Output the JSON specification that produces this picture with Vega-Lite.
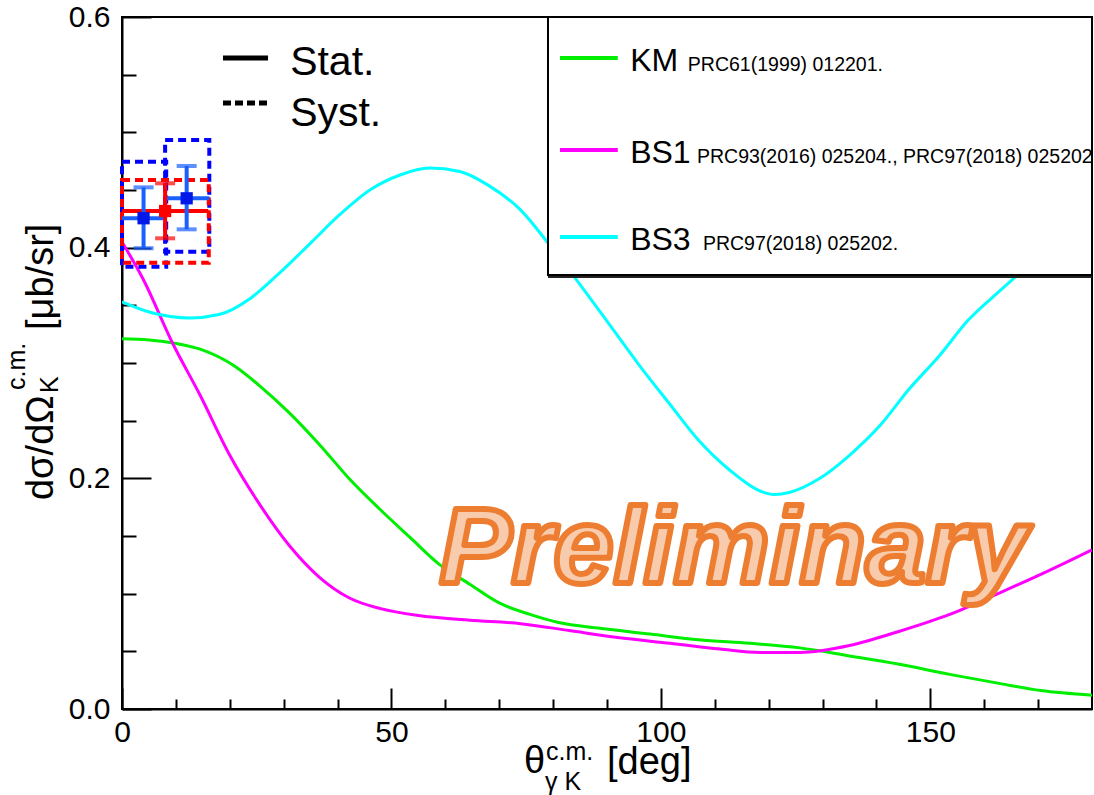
{
  "$schema": "https://vega.github.io/schema/vega-lite/v6.json",
  "width": 970,
  "height": 692,
  "autosize": {"type": "none"},
  "padding": {"left": 122, "top": 17, "right": 2, "bottom": 86},
  "background": "white",
  "config": {
    "view": {"stroke": "black", "strokeWidth": 2},
    "axis": {"domainColor": "black", "domainWidth": 2, "tickColor": "black", "tickWidth": 2, "labelFont": "Liberation Sans", "labelFontSize": 30, "labelColor": "black", "labelFlush": false, "labelOverlap": false, "grid": false},
    "text": {"font": "Liberation Sans", "color": "black"}
  },
  "resolve": {"scale": {"color": "independent"}},
  "datasets": {
    "curves": [
      {"model": "KM", "angle": 0, "xs": 0.321}, {"model": "KM", "angle": 5, "xs": 0.320}, {"model": "KM", "angle": 10, "xs": 0.317}, {"model": "KM", "angle": 14.5, "xs": 0.312}, {"model": "KM", "angle": 21, "xs": 0.297}, {"model": "KM", "angle": 25.6, "xs": 0.280}, {"model": "KM", "angle": 31, "xs": 0.257}, {"model": "KM", "angle": 36.7, "xs": 0.229}, {"model": "KM", "angle": 42.3, "xs": 0.199}, {"model": "KM", "angle": 47.9, "xs": 0.173}, {"model": "KM", "angle": 53.4, "xs": 0.149}, {"model": "KM", "angle": 59, "xs": 0.125}, {"model": "KM", "angle": 64.6, "xs": 0.108}, {"model": "KM", "angle": 70, "xs": 0.092}, {"model": "KM", "angle": 75.7, "xs": 0.082}, {"model": "KM", "angle": 81, "xs": 0.075}, {"model": "KM", "angle": 88.7, "xs": 0.070}, {"model": "KM", "angle": 98, "xs": 0.065}, {"model": "KM", "angle": 107, "xs": 0.060}, {"model": "KM", "angle": 116.5, "xs": 0.057}, {"model": "KM", "angle": 125.8, "xs": 0.053}, {"model": "KM", "angle": 135, "xs": 0.046}, {"model": "KM", "angle": 144, "xs": 0.039}, {"model": "KM", "angle": 153.6, "xs": 0.030}, {"model": "KM", "angle": 163, "xs": 0.022}, {"model": "KM", "angle": 170.5, "xs": 0.016}, {"model": "KM", "angle": 180, "xs": 0.012},
      {"model": "BS1", "angle": 0, "xs": 0.405}, {"model": "BS1", "angle": 4, "xs": 0.372}, {"model": "BS1", "angle": 9.3, "xs": 0.318}, {"model": "BS1", "angle": 14.5, "xs": 0.272}, {"model": "BS1", "angle": 20, "xs": 0.220}, {"model": "BS1", "angle": 25.6, "xs": 0.177}, {"model": "BS1", "angle": 31, "xs": 0.142}, {"model": "BS1", "angle": 36.7, "xs": 0.114}, {"model": "BS1", "angle": 42.3, "xs": 0.096}, {"model": "BS1", "angle": 48, "xs": 0.087}, {"model": "BS1", "angle": 55, "xs": 0.081}, {"model": "BS1", "angle": 64.6, "xs": 0.077}, {"model": "BS1", "angle": 74, "xs": 0.074}, {"model": "BS1", "angle": 83, "xs": 0.068}, {"model": "BS1", "angle": 92, "xs": 0.062}, {"model": "BS1", "angle": 101.7, "xs": 0.057}, {"model": "BS1", "angle": 111, "xs": 0.052}, {"model": "BS1", "angle": 118.4, "xs": 0.049}, {"model": "BS1", "angle": 125.8, "xs": 0.049}, {"model": "BS1", "angle": 135, "xs": 0.055}, {"model": "BS1", "angle": 144, "xs": 0.067}, {"model": "BS1", "angle": 153.6, "xs": 0.082}, {"model": "BS1", "angle": 163, "xs": 0.101}, {"model": "BS1", "angle": 172, "xs": 0.120}, {"model": "BS1", "angle": 180, "xs": 0.138},
      {"model": "BS3", "angle": 0, "xs": 0.353}, {"model": "BS3", "angle": 5.2, "xs": 0.344}, {"model": "BS3", "angle": 12.6, "xs": 0.339}, {"model": "BS3", "angle": 18, "xs": 0.342}, {"model": "BS3", "angle": 23.8, "xs": 0.356}, {"model": "BS3", "angle": 29, "xs": 0.377}, {"model": "BS3", "angle": 35, "xs": 0.404}, {"model": "BS3", "angle": 40.5, "xs": 0.429}, {"model": "BS3", "angle": 46, "xs": 0.450}, {"model": "BS3", "angle": 51.6, "xs": 0.463}, {"model": "BS3", "angle": 57, "xs": 0.469}, {"model": "BS3", "angle": 62.7, "xs": 0.466}, {"model": "BS3", "angle": 68, "xs": 0.454}, {"model": "BS3", "angle": 73.9, "xs": 0.433}, {"model": "BS3", "angle": 79.4, "xs": 0.402}, {"model": "BS3", "angle": 85, "xs": 0.368}, {"model": "BS3", "angle": 90.5, "xs": 0.333}, {"model": "BS3", "angle": 96, "xs": 0.298}, {"model": "BS3", "angle": 101.7, "xs": 0.264}, {"model": "BS3", "angle": 107, "xs": 0.233}, {"model": "BS3", "angle": 112.8, "xs": 0.207}, {"model": "BS3", "angle": 118.4, "xs": 0.189}, {"model": "BS3", "angle": 121, "xs": 0.186}, {"model": "BS3", "angle": 124, "xs": 0.188}, {"model": "BS3", "angle": 129.5, "xs": 0.200}, {"model": "BS3", "angle": 135, "xs": 0.220}, {"model": "BS3", "angle": 140.7, "xs": 0.246}, {"model": "BS3", "angle": 146, "xs": 0.277}, {"model": "BS3", "angle": 151.8, "xs": 0.307}, {"model": "BS3", "angle": 157, "xs": 0.337}, {"model": "BS3", "angle": 163, "xs": 0.363}, {"model": "BS3", "angle": 168.5, "xs": 0.386}, {"model": "BS3", "angle": 174, "xs": 0.410}, {"model": "BS3", "angle": 180, "xs": 0.432}
    ],
    "pts": [
      {"set": "blue", "x": 4, "xlo": 0, "xhi": 8, "y": 0.4255, "ylo": 0.3995, "yhi": 0.4523, "bx0": 0, "bx1": 8.2, "by0": 0.3835, "by1": 0.4746},
      {"set": "blue", "x": 12, "xlo": 8.3, "xhi": 16.2, "y": 0.4428, "ylo": 0.4159, "yhi": 0.4708, "bx0": 8, "bx1": 16.2, "by0": 0.3965, "by1": 0.4934},
      {"set": "red", "x": 8, "xlo": 0, "xhi": 16, "y": 0.4318, "ylo": 0.4081, "yhi": 0.4558, "bx0": 0, "bx1": 16.1, "by0": 0.387, "by1": 0.4587}
    ]
  },
  "layer": [
    {
      "data": {"name": "curves"},
      "mark": {"type": "line", "strokeWidth": 3, "interpolate": "monotone", "clip": true},
      "encoding": {
        "x": {"field": "angle", "type": "quantitative", "title": null, "scale": {"domain": [0, 180], "nice": false, "zero": false},
          "axis": {"values": [0, 10, 20, 30, 40, 50, 60, 70, 80, 90, 100, 110, 120, 130, 140, 150, 160, 170],
            "tickSize": {"condition": {"test": "datum.value % 50 === 0", "value": -21}, "value": -10},
            "labelExpr": "datum.value % 50 === 0 ? datum.label : ''", "labelPadding": 29}},
        "y": {"field": "xs", "type": "quantitative", "title": null, "scale": {"domain": [0, 0.6], "nice": false, "zero": false},
          "axis": {"values": [0, 0.05, 0.1, 0.15, 0.2, 0.25, 0.3, 0.35, 0.4, 0.45, 0.5, 0.55, 0.6],
            "tickSize": {"condition": {"test": "abs(datum.value*5 - round(datum.value*5)) < 0.001", "value": -29}, "value": -14},
            "labelExpr": "abs(datum.value*5 - round(datum.value*5)) < 0.001 ? format(datum.value, '.1f') : ''", "labelPadding": 41}},
        "color": {"field": "model", "type": "nominal", "scale": {"domain": ["KM", "BS1", "BS3"], "range": ["#00ee00", "#ff00ff", "#00ffff"]}, "legend": null}
      }
    },
    {
      "data": {"values": [{}]},
      "mark": {"type": "rect", "fill": "white", "stroke": "black", "strokeWidth": 2},
      "encoding": {"x": {"datum": 79.05}, "x2": {"datum": 180}, "y": {"datum": 0.3763}, "y2": {"datum": 0.6}}
    },
    {"data": {"values": [{}]}, "mark": {"type": "rule", "color": "#222222", "strokeWidth": 2},
      "encoding": {"x": {"datum": 79.05}, "x2": {"datum": 180}, "y": {"datum": 0.3746}}},
    {"data": {"values": [{}]}, "mark": {"type": "rule", "color": "#00ee00", "strokeWidth": 4},
      "encoding": {"x": {"datum": 81.28}, "x2": {"datum": 92.0}, "y": {"datum": 0.5645}}},
    {"data": {"values": [{}]}, "mark": {"type": "rule", "color": "#ff00ff", "strokeWidth": 4},
      "encoding": {"x": {"datum": 81.28}, "x2": {"datum": 92.0}, "y": {"datum": 0.4847}}},
    {"data": {"values": [{}]}, "mark": {"type": "rule", "color": "#00ffff", "strokeWidth": 4},
      "encoding": {"x": {"datum": 81.28}, "x2": {"datum": 92.0}, "y": {"datum": 0.4093}}},
    {"data": {"values": [{}]}, "mark": {"type": "text", "text": "KM", "fontSize": 32, "align": "left", "baseline": "alphabetic"},
      "encoding": {"x": {"datum": 94.3}, "y": {"datum": 0.5532}}},
    {"data": {"values": [{}]}, "mark": {"type": "text", "text": "BS1", "fontSize": 32, "align": "left", "baseline": "alphabetic"},
      "encoding": {"x": {"datum": 94.3}, "y": {"datum": 0.4734}}},
    {"data": {"values": [{}]}, "mark": {"type": "text", "text": "BS3", "fontSize": 32, "align": "left", "baseline": "alphabetic"},
      "encoding": {"x": {"datum": 94.3}, "y": {"datum": 0.398}}},
    {"data": {"values": [{}]}, "mark": {"type": "text", "text": "PRC61(1999) 012201.", "fontSize": 19.5, "align": "left", "baseline": "alphabetic"},
      "encoding": {"x": {"datum": 105.0}, "y": {"datum": 0.5532}}},
    {"data": {"values": [{}]}, "mark": {"type": "text", "text": "PRC93(2016) 025204., PRC97(2018) 025202.", "fontSize": 19.5, "align": "left", "baseline": "alphabetic", "clip": true},
      "encoding": {"x": {"datum": 106.7}, "y": {"datum": 0.4734}}},
    {"data": {"values": [{}]}, "mark": {"type": "text", "text": "PRC97(2018) 025202.", "fontSize": 19.5, "align": "left", "baseline": "alphabetic"},
      "encoding": {"x": {"datum": 107.8}, "y": {"datum": 0.398}}},
    {"data": {"values": [{}]}, "mark": {"type": "rule", "color": "black", "strokeWidth": 5},
      "encoding": {"x": {"datum": 18.74}, "x2": {"datum": 27.1}, "y": {"datum": 0.5645}}},
    {"data": {"values": [{}]}, "mark": {"type": "rule", "color": "black", "strokeWidth": 5, "strokeDash": [8, 4]},
      "encoding": {"x": {"datum": 18.74}, "x2": {"datum": 27.1}, "y": {"datum": 0.5255}}},
    {"data": {"values": [{}]}, "mark": {"type": "text", "text": "Stat.", "fontSize": 41, "align": "left", "baseline": "alphabetic"},
      "encoding": {"x": {"datum": 31.2}, "y": {"datum": 0.5497}}},
    {"data": {"values": [{}]}, "mark": {"type": "text", "text": "Syst.", "fontSize": 41, "align": "left", "baseline": "alphabetic"},
      "encoding": {"x": {"datum": 31.2}, "y": {"datum": 0.5055}}},
    {
      "data": {"name": "pts"},
      "mark": {"type": "rect", "fillOpacity": 0, "strokeWidth": 4, "strokeDash": [8, 5]},
      "encoding": {
        "x": {"field": "bx0", "type": "quantitative", "title": null}, "x2": {"field": "bx1"},
        "y": {"field": "by0", "type": "quantitative", "title": null}, "y2": {"field": "by1"},
        "stroke": {"field": "set", "type": "nominal", "scale": {"domain": ["blue", "red"], "range": ["#0000ff", "#ff0000"]}, "legend": null}
      }
    },
    {
      "data": {"name": "pts"},
      "mark": {"type": "rule", "strokeWidth": 4},
      "encoding": {
        "x": {"field": "xlo", "type": "quantitative", "title": null}, "x2": {"field": "xhi"},
        "y": {"field": "y", "type": "quantitative", "title": null},
        "color": {"field": "set", "type": "nominal", "scale": {"domain": ["blue", "red"], "range": ["#1a60ff", "#ff0000"]}, "legend": null}
      }
    },
    {
      "data": {"name": "pts"},
      "mark": {"type": "rule", "strokeWidth": 4},
      "encoding": {
        "x": {"field": "x", "type": "quantitative", "title": null},
        "y": {"field": "ylo", "type": "quantitative", "title": null}, "y2": {"field": "yhi"},
        "color": {"field": "set", "type": "nominal", "scale": {"domain": ["blue", "red"], "range": ["#1a60ff", "#ff0000"]}, "legend": null}
      }
    },
    {
      "data": {"name": "pts"},
      "mark": {"type": "tick", "orient": "horizontal", "size": 20, "thickness": 4},
      "encoding": {
        "x": {"field": "x", "type": "quantitative", "title": null},
        "y": {"field": "ylo", "type": "quantitative", "title": null},
        "color": {"field": "set", "type": "nominal", "scale": {"domain": ["blue", "red"], "range": ["#1a60ff", "#ff0000"]}, "legend": null}
      }
    },
    {
      "data": {"name": "pts"},
      "mark": {"type": "tick", "orient": "horizontal", "size": 20, "thickness": 4},
      "encoding": {
        "x": {"field": "x", "type": "quantitative", "title": null},
        "y": {"field": "yhi", "type": "quantitative", "title": null},
        "color": {"field": "set", "type": "nominal", "scale": {"domain": ["blue", "red"], "range": ["#1a60ff", "#ff0000"]}, "legend": null}
      }
    },
    {
      "data": {"name": "pts"},
      "mark": {"type": "point", "shape": "square", "filled": true, "size": 150, "opacity": 1},
      "encoding": {
        "x": {"field": "x", "type": "quantitative", "title": null},
        "y": {"field": "y", "type": "quantitative", "title": null},
        "color": {"field": "set", "type": "nominal", "scale": {"domain": ["blue", "red"], "range": ["#0018e8", "#ff0000"]}, "legend": null}
      }
    },
    {"data": {"values": [{}]}, "mark": {"type": "text", "text": "Preliminary", "font": "Liberation Sans", "fontSize": 108, "fontWeight": "bold", "fontStyle": "italic", "align": "center", "baseline": "alphabetic", "fill": "#f8cbad", "stroke": "#ed7d31", "strokeWidth": 6, "strokeJoin": "round"},
      "encoding": {"x": {"datum": 113.5}, "y": {"datum": 0.109}}},
    {"data": {"values": [{}]}, "mark": {"type": "text", "text": "θ", "fontSize": 38, "align": "left", "baseline": "alphabetic"},
      "encoding": {"x": {"datum": 74.6}, "y": {"datum": -0.0555}}},
    {"data": {"values": [{}]}, "mark": {"type": "text", "text": "c.m.", "fontSize": 25, "align": "left", "baseline": "alphabetic"},
      "encoding": {"x": {"datum": 78.68}, "y": {"datum": -0.0442}}},
    {"data": {"values": [{}]}, "mark": {"type": "text", "text": "γ K", "fontSize": 25, "align": "left", "baseline": "alphabetic"},
      "encoding": {"x": {"datum": 78.5}, "y": {"datum": -0.0703}}},
    {"data": {"values": [{}]}, "mark": {"type": "text", "text": "[deg]", "fontSize": 38, "align": "left", "baseline": "alphabetic"},
      "encoding": {"x": {"datum": 90.0}, "y": {"datum": -0.0565}}},
    {"data": {"values": [{}]}, "mark": {"type": "text", "text": "dσ/dΩ", "fontSize": 38, "align": "left", "baseline": "alphabetic", "angle": 270},
      "encoding": {"x": {"datum": -12.8}, "y": {"datum": 0.1812}}},
    {"data": {"values": [{}]}, "mark": {"type": "text", "text": "c.m.", "fontSize": 25, "align": "left", "baseline": "alphabetic", "angle": 270},
      "encoding": {"x": {"datum": -18.0}, "y": {"datum": 0.2766}}},
    {"data": {"values": [{}]}, "mark": {"type": "text", "text": "K", "fontSize": 25, "align": "left", "baseline": "alphabetic", "angle": 270},
      "encoding": {"x": {"datum": -11.88}, "y": {"datum": 0.274}}},
    {"data": {"values": [{}]}, "mark": {"type": "text", "text": "[μb/sr]", "fontSize": 38, "align": "left", "baseline": "alphabetic", "angle": 270},
      "encoding": {"x": {"datum": -12.8}, "y": {"datum": 0.3286}}}
  ]
}
